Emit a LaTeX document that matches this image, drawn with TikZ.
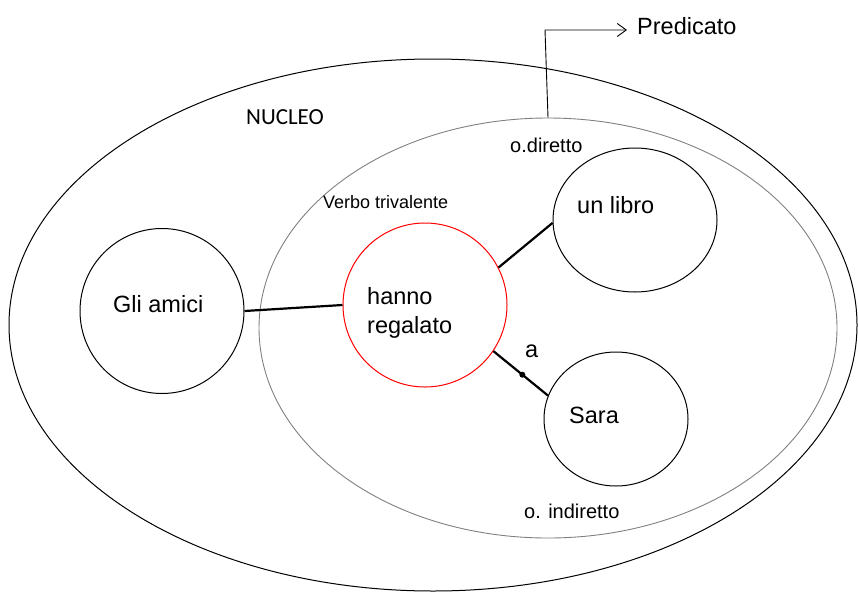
\documentclass[tikz,border=0pt]{standalone}
\usepackage{fontspec}
\setmainfont{Liberation Sans}
\newfontfamily\calfont{Carlito}
\usetikzlibrary{shapes.geometric,arrows.meta}
\tikzset{
  ring/.style={draw=black,line width=1pt,ellipse,inner sep=0pt,fill=none},
  link/.style={draw=black,line width=2.2pt},
  lbl/.style={anchor=base west,inner sep=0pt,font=\fontsize{23.5}{29}\selectfont},
  smalllbl/.style={anchor=base west,inner sep=0pt,font=\fontsize{20}{24}\selectfont}
}
\begin{document}
\begin{tikzpicture}[x=1pt,y=-1pt]
\useasboundingbox (0,0) rectangle (858,597);
% outer and inner ellipses
\node[ring,minimum width=848pt,minimum height=532pt] (outer) at (433,325) {};
\node[ellipse,draw={rgb,255:red,128;green,128;blue,128},line width=0.9pt,inner sep=0pt,minimum width=578pt,minimum height=420pt] (inner) at (548,328) {};
% circles
\node[ring,minimum width=164pt,minimum height=165pt] (ga) at (162,311) {};
\node[ring,draw=red,minimum width=164pt,minimum height=164pt] (hr) at (425,305) {};
\node[ring,minimum width=164pt,minimum height=144pt] (ul) at (635,220) {};
\node[ring,minimum width=144pt,minimum height=134pt] (sa) at (616,419) {};
% connectors
\draw[link] (ga.0) -- (hr.180);
\draw[link] (hr.27) -- (ul.182);
\draw[link] (hr.-34.5) -- node[pos=0.53,circle,fill=black,inner sep=0pt,minimum size=6pt] (dot) {} (sa.161.6);
% predicato arrow
\coordinate (bend) at (545,30);
\coordinate (tip) at (627,30);
\draw[line width=0.9pt,-{Straight Barb[length=9pt,width=13pt]}] (inner.north) -- (bend) -- (tip);
% texts
\node[lbl] (predtxt) at (637,34) {Predicato};
\node[anchor=base west,inner sep=0pt,font=\calfont\fontsize{23}{28}\selectfont] (nucleo) at (246,124) {NUCLEO};
\node[smalllbl] (odir) at (510,152) {o.diretto};
\node[anchor=base west,inner sep=0pt,font=\fontsize{18}{22}\selectfont] (verbo) at (323,208) {Verbo trivalente};
\node[lbl] (gatxt) at (113,312) {Gli amici};
\node[lbl] (hanno) at (367,304) {hanno};
\node[lbl] (regalato) at (367,333) {regalato};
\node[lbl] (ultxt) at (577,213) {un libro};
\node[lbl] (satxt) at (569,423) {Sara};
\node[lbl] (atxt) at (525,357) {a};
\node[smalllbl] (oind) at (524,518) {o. indiretto};
\end{tikzpicture}
\end{document}
